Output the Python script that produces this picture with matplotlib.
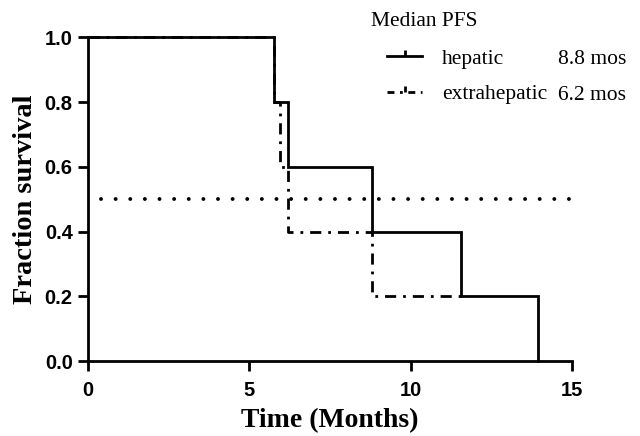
import matplotlib
matplotlib.use("Agg")
import matplotlib.pyplot as plt
from matplotlib.lines import Line2D

# Data
hep_t = [0, 5.75, 6.2, 8.8, 11.55, 13.95]
hep_s = [1.0, 0.8, 0.6, 0.4, 0.2, 0.0]
ext_t = [0, 5.75, 5.95, 6.2, 8.8, 11.55]
ext_s = [1.0, 0.8, 0.6, 0.4, 0.2, 0.2]
median_x = [0.4, 14.9]
median_level = 0.5
groups = ["hepatic", "extrahepatic"]
medians = ["8.8 mos", "6.2 mos"]
xticks = [0, 5, 10, 15]
yticks = [0.0, 0.2, 0.4, 0.6, 0.8, 1.0]

serif = "Liberation Serif"
sans = "Liberation Sans"

fig = plt.figure(figsize=(6.4, 4.36), dpi=100)
ax = fig.add_axes([0.1375, 0.172, 0.894 - 0.1375, 0.914 - 0.172])

lw = 2.0
ax.step(hep_t, hep_s, where="post", color="black", lw=lw, clip_on=False,
        solid_joinstyle="miter", zorder=3)
ext_ls = (0, (4, 2.5, 1, 2.5))
ax.step(ext_t, ext_s, where="post", color="black", lw=lw, ls=ext_ls, clip_on=False,
        zorder=4)
ax.plot(median_x, [median_level, median_level], color="black", lw=2.8,
        ls=(0, (0.01, 3.75)), dash_capstyle="round", zorder=2)

ax.set_xlim(0, 15)
ax.set_ylim(0, 1.0)
ax.set_xticks(xticks)
ax.set_yticks(yticks)
ax.set_xticklabels([str(v) for v in xticks], fontfamily=sans, fontweight="bold", fontsize=14.5)
ax.set_yticklabels([f"{v:.1f}" for v in yticks], fontfamily=sans, fontweight="bold", fontsize=14.5)
for s in ["top", "right"]:
    ax.spines[s].set_visible(False)
for s in ["left", "bottom"]:
    ax.spines[s].set_linewidth(2.0)
    ax.spines[s].set_zorder(5)
ax.tick_params(width=2.0, length=7, direction="out")
ax.tick_params(axis="x", pad=7.5)
ax.tick_params(axis="y", pad=4)

ax.set_xlabel("Time (Months)", fontfamily=serif, fontweight="bold", fontsize=20, labelpad=6)
ax.set_ylabel("Fraction survival", fontfamily=serif, fontweight="bold", fontsize=20.5, labelpad=5)

tick_marker = [(0, 0), (0, 1)]
handles = [
    Line2D([0], [0], color="black", lw=lw, marker=tick_marker, markersize=8,
           markeredgewidth=lw),
    Line2D([0], [0], color="black", lw=lw, ls=(0, (2.5, 2.0, 1, 2.0)), marker=tick_marker,
           markersize=8, markeredgewidth=lw),
]
leg = ax.legend(handles, groups, loc="upper left",
                bbox_to_anchor=(387 / 640, 1 - 48.5 / 436), bbox_transform=fig.transFigure,
                frameon=False, handlelength=1.63, handletextpad=0.93, labelspacing=0.73,
                borderpad=0, borderaxespad=0,
                prop={"family": serif, "size": 15.5}, numpoints=1)
fig.text(371 / 640, 1 - 21 / 436, "Median PFS", fontfamily=serif, fontsize=15.5,
         va="center", ha="left")
for i, m in enumerate(medians):
    fig.text(558 / 640, 1 - (59 + 36 * i) / 436, m, fontfamily=serif, fontsize=15.5,
             va="center", ha="left")

fig.savefig("out.png", dpi=100)
